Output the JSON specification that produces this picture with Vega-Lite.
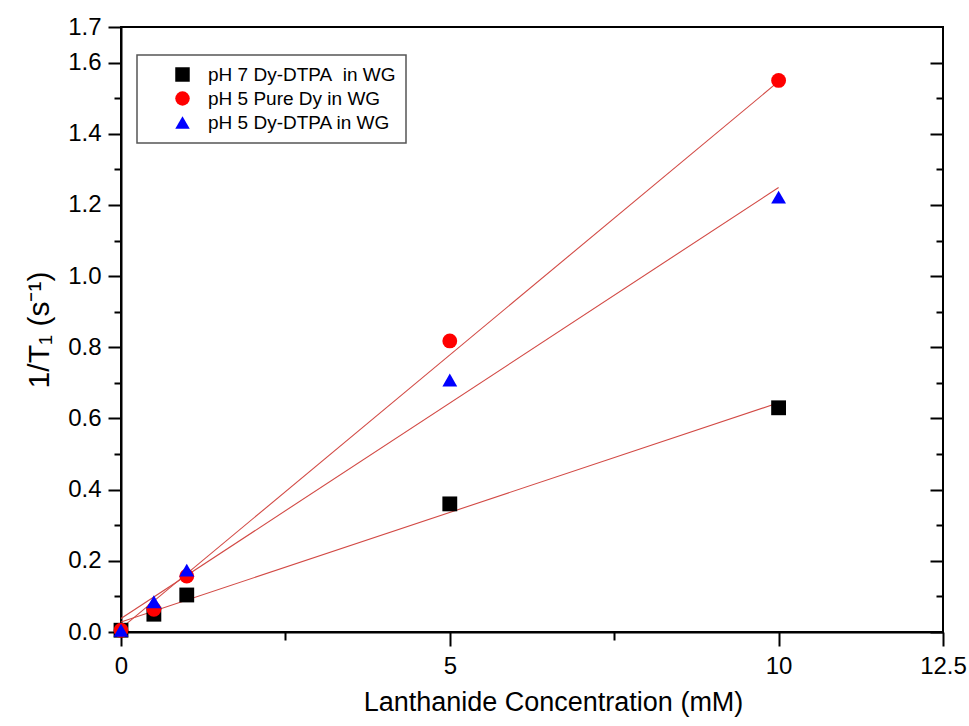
{
  "$schema": "https://vega.github.io/schema/vega-lite/v6.json",
  "width": 822,
  "height": 605,
  "autosize": "none",
  "padding": {"left": 121, "top": 27, "right": 26, "bottom": 94},
  "background": "white",
  "datasets": {
    "pts": [
      {"series": "pH 7 Dy-DTPA\u00a0 in WG", "conc": 0, "r": 0.005},
      {"series": "pH 7 Dy-DTPA\u00a0 in WG", "conc": 0.5, "r": 0.05},
      {"series": "pH 7 Dy-DTPA\u00a0 in WG", "conc": 1, "r": 0.104},
      {"series": "pH 7 Dy-DTPA\u00a0 in WG", "conc": 5, "r": 0.36},
      {"series": "pH 7 Dy-DTPA\u00a0 in WG", "conc": 10, "r": 0.63},
      {"series": "pH 5 Pure Dy in WG", "conc": 0, "r": 0.005},
      {"series": "pH 5 Pure Dy in WG", "conc": 0.5, "r": 0.064},
      {"series": "pH 5 Pure Dy in WG", "conc": 1, "r": 0.157},
      {"series": "pH 5 Pure Dy in WG", "conc": 5, "r": 0.818},
      {"series": "pH 5 Pure Dy in WG", "conc": 10, "r": 1.55},
      {"series": "pH 5 Dy-DTPA in WG", "conc": 0, "r": 0.005},
      {"series": "pH 5 Dy-DTPA in WG", "conc": 0.5, "r": 0.085},
      {"series": "pH 5 Dy-DTPA in WG", "conc": 1, "r": 0.174},
      {"series": "pH 5 Dy-DTPA in WG", "conc": 5, "r": 0.708},
      {"series": "pH 5 Dy-DTPA in WG", "conc": 10, "r": 1.222}
    ],
    "fits": [
      {"series": "pH 7 Dy-DTPA\u00a0 in WG", "conc": 0, "r": 0.028},
      {"series": "pH 7 Dy-DTPA\u00a0 in WG", "conc": 10, "r": 0.644},
      {"series": "pH 5 Pure Dy in WG", "conc": 0, "r": 0.01},
      {"series": "pH 5 Pure Dy in WG", "conc": 10, "r": 1.547},
      {"series": "pH 5 Dy-DTPA in WG", "conc": 0, "r": 0.038},
      {"series": "pH 5 Dy-DTPA in WG", "conc": 10, "r": 1.249}
    ]
  },
  "resolve": {"axis": {"x": "independent", "y": "independent"}},
  "layer": [
    {
      "data": {"name": "fits"},
      "mark": {"type": "line", "color": "#d24a45", "strokeWidth": 1.1},
      "encoding": {
        "x": {
          "field": "conc", "type": "quantitative",
          "scale": {"domain": [0, 12.5], "nice": false, "zero": false},
          "axis": {
            "orient": "bottom", "values": [0, 5, 10, 12.5], "tickSize": 14,
            "labelExpr": "datum.value == 12.5 ? '12.5' : toString(datum.value)",
            "labelFont": "Liberation Sans", "labelFontSize": 24, "labelPadding": 8,
            "labelFlush": false, "labelOverlap": false,
            "title": "Lanthanide Concentration (mM)", "titleFont": "Liberation Sans",
            "titleFontSize": 27, "titleFontWeight": "normal",
            "titleX": 432, "titleY": 78, "titleBaseline": "alphabetic", "titleAlign": "center"
          }
        },
        "y": {
          "field": "r", "type": "quantitative",
          "scale": {"domain": [0, 1.7], "nice": false, "zero": false},
          "axis": {
            "orient": "left", "values": [0, 0.2, 0.4, 0.6, 0.8, 1.0, 1.2, 1.4, 1.6, 1.7],
            "format": ".1f", "tickSize": 13, "labelFont": "Liberation Sans", "labelFontSize": 24,
            "labelPadding": 7, "labelFlush": false, "labelOverlap": false,
            "title": "1/T₁ (s⁻¹)", "titleFont": "Liberation Sans", "titleFontSize": 30,
            "titleFontWeight": "normal", "titlePadding": 13
          }
        },
        "detail": {"field": "series"}
      }
    },
    {
      "data": {"name": "pts"},
      "mark": {"type": "point", "filled": true, "opacity": 1, "size": 220},
      "encoding": {
        "x": {
          "field": "conc", "type": "quantitative",
          "axis": {"orient": "bottom", "values": [2.5, 7.5], "tickSize": 8, "labels": false, "title": null, "domain": false}
        },
        "y": {
          "field": "r", "type": "quantitative",
          "axis": {"orient": "left", "values": [0.1, 0.3, 0.5, 0.7, 0.9, 1.1, 1.3, 1.5], "tickSize": 7, "labels": false, "title": null, "domain": false}
        },
        "color": {
          "field": "series", "type": "nominal",
          "scale": {"domain": ["pH 7 Dy-DTPA\u00a0 in WG", "pH 5 Pure Dy in WG", "pH 5 Dy-DTPA in WG"], "range": ["#000000", "#ff0000", "#0000ff"]},
          "legend": {"title": null}
        },
        "shape": {
          "field": "series", "type": "nominal",
          "scale": {"domain": ["pH 7 Dy-DTPA\u00a0 in WG", "pH 5 Pure Dy in WG", "pH 5 Dy-DTPA in WG"], "range": ["square", "circle", "triangle-up"]},
          "legend": {"title": null}
        }
      }
    },
    {
      "data": {"name": "pts"},
      "mark": {"type": "point", "opacity": 0},
      "encoding": {
        "x": {"field": "conc", "type": "quantitative", "axis": null},
        "y": {
          "field": "r", "type": "quantitative",
          "axis": {"orient": "right", "values": [0, 0.2, 0.4, 0.6, 0.8, 1.0, 1.2, 1.4, 1.6], "tickSize": -13, "labels": false, "title": null, "domain": false}
        }
      }
    },
    {
      "data": {"name": "pts"},
      "mark": {"type": "point", "opacity": 0},
      "encoding": {
        "x": {"field": "conc", "type": "quantitative", "axis": null},
        "y": {
          "field": "r", "type": "quantitative",
          "axis": {"orient": "right", "values": [0.1, 0.3, 0.5, 0.7, 0.9, 1.1, 1.3, 1.5], "tickSize": -7, "labels": false, "title": null, "domain": false}
        }
      }
    }
  ],
  "config": {
    "view": {"stroke": "black", "strokeWidth": 2},
    "axis": {
      "grid": false, "domainColor": "black", "domainWidth": 2, "tickColor": "black",
      "tickWidth": 2, "labelColor": "black", "titleColor": "black",
      "labelFont": "Liberation Sans", "titleFont": "Liberation Sans"
    },
    "legend": {
      "orient": "none", "legendX": 16, "legendY": 28,
      "strokeColor": "#555555", "strokeWidth": 1.5, "fillColor": "white",
      "padding": 10, "symbolOffset": 26, "labelOffset": 16, "symbolSize": 210,
      "labelFont": "Liberation Sans", "labelFontSize": 19, "labelColor": "black",
      "rowPadding": 4, "symbolStrokeWidth": 0, "labelLimit": 400
    }
  }
}
